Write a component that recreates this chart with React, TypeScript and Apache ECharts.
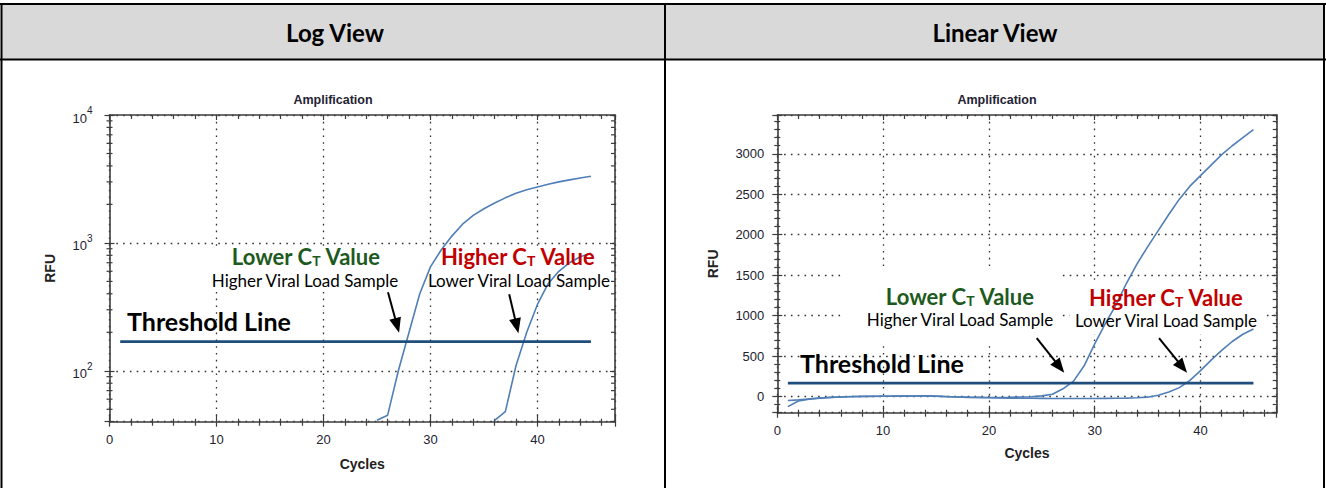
import React, { useEffect, useRef } from 'react';
import * as echarts from 'echarts';

// ---------- Data ----------
const linCycles = [1, 2, 3, 4, 5, 6, 7, 8, 9, 10, 11, 12, 13, 14, 15, 16, 17, 18, 19, 20, 21, 22, 23, 24, 25, 26, 27, 28, 29, 30, 31, 32, 33, 34, 35, 36, 37, 38, 39, 40, 41, 42, 43, 44, 45];
const linLowCt = [-50, -42, -30, -18, -10, -5, 0, 2, 3, 4, 5, 6, 7, 8, 5, 0, -5, -8, -10, -12, -12, -10, -6, -2, 8, 28, 95, 190, 380, 650, 900, 1130, 1400, 1640, 1850, 2050, 2250, 2440, 2600, 2730, 2860, 2990, 3100, 3200, 3300];
const linHighCt = [-125, -55, -32, -20, -12, -6, -2, 0, 2, 3, 4, 5, 6, 6, 3, -2, -6, -10, -13, -16, -18, -20, -21, -22, -23, -24, -24, -24, -24, -24, -23, -22, -20, -16, -8, 15, 55, 110, 200, 320, 450, 570, 680, 770, 835];
const linThresholdCycles = [1, 45];
const linThresholdValue = 165;

const logLowCtCycles = [25, 26, 27, 28, 29, 30, 31, 32, 33, 34, 35, 36, 37, 38, 39, 40, 41, 42, 43, 44, 45];
const logLowCt = [41, 45, 100, 200, 400, 650, 880, 1130, 1400, 1640, 1850, 2050, 2250, 2440, 2600, 2740, 2870, 3000, 3110, 3220, 3320];
const logHighCtCycles = [36, 37, 38, 39, 40, 41, 42, 43, 44, 45];
const logHighCt = [41, 48, 110, 200, 330, 480, 600, 700, 780, 830];
const logThresholdCycles = [1, 45];
const logThresholdValue = 169;
const logMinorTickValues = [50, 60, 70, 80, 90, 200, 300, 400, 500, 600, 700, 800, 900, 2000, 3000, 4000, 5000, 6000, 7000, 8000, 9000];

// arrows: [cycle, RFU] tail -> head
const logArrowTails = [[26.03, 411], [37.36, 397]];
const logArrowHeads = [[26.88, 226], [38.06, 224]];
const linArrowTails = [[24.52, 722], [36.08, 722]];
const linArrowHeads = [[26.68, 365], [38.28, 365]];

const headers = ['Log View', 'Linear View'];
const chartTitle = 'Amplification';

// ---------- Styles ----------
const ARIAL = 'Arial, "Liberation Sans", Helvetica, sans-serif';
const DOC = 'Lato, "Open Sans", "Noto Sans", sans-serif';
const AXIS = '#3c3c3c';
const LABEL = '#22222f';
const CURVE = '#4f7fb6';
const THRESH = '#1f4e7c';
const GREEN = '#1d5a1d';
const RED = '#c00000';
const tickStyle = { color: AXIS, width: 1.2 };
const dotStyle = { color: '#333', width: 1.3, type: [1.6, 5.2] };

function xAxesFor(gridIndex: number, max: number, nameGap: number, labelMargin: number) {
  const base = { gridIndex, type: 'value', min: 0, max, interval: 10 };
  return [
    {
      ...base,
      position: 'bottom',
      name: 'Cycles',
      nameLocation: 'middle',
      nameGap,
      nameTextStyle: { fontFamily: ARIAL, fontWeight: 'bold', fontSize: 14, color: '#222' },
      axisLine: { show: true, onZero: false, lineStyle: { color: AXIS, width: 1.6 } },
      axisTick: { show: true, length: 5, lineStyle: tickStyle },
      minorTick: { show: true, splitNumber: 5, length: 4, lineStyle: tickStyle },
      axisLabel: {
        margin: labelMargin,
        fontFamily: ARIAL,
        fontSize: 13,
        color: LABEL,
        formatter: (v: number) => (Math.abs(v % 10) < 1e-9 ? String(Math.round(v)) : ''),
      },
      splitLine: { show: true, lineStyle: dotStyle },
    },
    {
      ...base,
      position: 'bottom',
      axisLine: { show: false, onZero: false },
      axisTick: { show: true, inside: true, length: 7, lineStyle: tickStyle },
      minorTick: { show: true, splitNumber: 5, length: 3, lineStyle: tickStyle },
      axisLabel: { show: false },
      splitLine: { show: false },
    },
    {
      ...base,
      position: 'top',
      axisLine: { show: true, onZero: false, lineStyle: { color: AXIS, width: 1.6 } },
      axisTick: { show: true, inside: true, length: 5, lineStyle: tickStyle },
      minorTick: { show: true, splitNumber: 5, length: 4, lineStyle: tickStyle },
      axisLabel: { show: false },
      splitLine: { show: false },
    },
  ];
}

function logYAxes() {
  const base = { gridIndex: 0, type: 'log', logBase: 10, min: 40, max: 10000 };
  return [
    {
      ...base,
      position: 'left',
      name: 'RFU',
      nameLocation: 'middle',
      nameGap: 53,
      nameRotate: 90,
      nameTextStyle: { fontFamily: ARIAL, fontWeight: 'bold', fontSize: 14, color: '#222' },
      axisLine: { show: true, onZero: false, lineStyle: { color: AXIS, width: 1.6 } },
      axisTick: { show: true, length: 5, lineStyle: tickStyle },
      axisLabel: {
        margin: 17,
        formatter: (v: number) => {
          const e = Math.log10(v);
          if (Math.abs(e - Math.round(e)) < 1e-6) return `{b|10}{s|${Math.round(e)}}`;
          return '';
        },
        rich: {
          b: { fontFamily: ARIAL, fontSize: 13, color: LABEL, lineHeight: 19, verticalAlign: 'bottom' },
          s: { fontFamily: ARIAL, fontSize: 10, color: LABEL, lineHeight: 10, verticalAlign: 'top' },
        },
      },
      splitLine: { show: true, lineStyle: dotStyle },
    },
    {
      ...base,
      position: 'left',
      axisLine: { show: false, onZero: false },
      axisTick: { show: true, inside: true, length: 5, lineStyle: tickStyle },
      axisLabel: { show: false },
      splitLine: { show: false },
    },
    {
      ...base,
      position: 'right',
      axisLine: { show: true, onZero: false, lineStyle: { color: AXIS, width: 1.6 } },
      axisTick: { show: true, inside: true, length: 5, lineStyle: tickStyle },
      axisLabel: { show: false },
      splitLine: { show: false },
    },
  ];
}

function linYAxes() {
  const base = { gridIndex: 1, type: 'value', min: -200, max: 3480, splitNumber: 7 };
  return [
    {
      ...base,
      position: 'left',
      name: 'RFU',
      nameLocation: 'middle',
      nameGap: 57,
      nameRotate: 90,
      nameTextStyle: { fontFamily: ARIAL, fontWeight: 'bold', fontSize: 14, color: '#222' },
      axisLine: { show: true, onZero: false, lineStyle: { color: AXIS, width: 1.6 } },
      axisTick: { show: true, length: 5, lineStyle: tickStyle },
      minorTick: { show: true, splitNumber: 5, length: 3, lineStyle: tickStyle },
      axisLabel: {
        margin: 13,
        fontFamily: ARIAL,
        fontSize: 13,
        color: LABEL,
        formatter: (v: number) => (v >= 0 && Math.abs(v % 500) < 1e-9 ? String(Math.round(v)) : ''),
      },
      splitLine: { show: true, lineStyle: dotStyle },
    },
    {
      ...base,
      position: 'left',
      axisLine: { show: false, onZero: false },
      axisTick: { show: true, inside: true, length: 5, lineStyle: tickStyle },
      minorTick: { show: true, splitNumber: 5, length: 3, lineStyle: tickStyle },
      axisLabel: { show: false },
      splitLine: { show: false },
    },
    {
      ...base,
      position: 'right',
      axisLine: { show: true, onZero: false, lineStyle: { color: AXIS, width: 1.6 } },
      axisTick: { show: true, inside: true, length: 5, lineStyle: tickStyle },
      minorTick: { show: true, splitNumber: 5, length: 4, lineStyle: tickStyle },
      axisLabel: { show: false },
      splitLine: { show: false },
    },
  ];
}

function pairs(xs: number[], ys: number[]) {
  return xs.map((x, i) => [x, ys[i]]);
}

function arrowMarkLine(tails: number[][], heads: number[][]) {
  return {
    silent: true,
    symbol: ['none', 'triangle'],
    symbolSize: [12, 15],
    label: { show: false },
    emphasis: { disabled: true },
    lineStyle: { color: '#000', width: 2, type: 'solid' },
    itemStyle: { color: '#000' },
    data: tails.map((t, i) => [{ coord: t }, { coord: heads[i] }]),
  };
}

function curveSeries(data: number[][], xi: number, yi: number) {
  return {
    type: 'line',
    xAxisIndex: xi,
    yAxisIndex: yi,
    data,
    showSymbol: false,
    symbol: 'none',
    silent: true,
    z: 3,
    lineStyle: { color: CURVE, width: 1.6 },
  };
}

function ctTitle(x: number, y: number, word: string, color: string) {
  return {
    type: 'text',
    z: 10,
    style: {
      x,
      y,
      text: `{a|${word} C}{b|T}{a| Value}`,
      align: 'center',
      verticalAlign: 'middle',
      rich: {
        a: { fontFamily: DOC, fontWeight: 'bold', fontSize: 22, fill: color, lineHeight: 26, verticalAlign: 'bottom' },
        b: { fontFamily: DOC, fontWeight: 'bold', fontSize: 14, fill: color, lineHeight: 14, verticalAlign: 'bottom' },
      },
    },
  };
}

function plainText(x: number, y: number, text: string, opts: any = {}) {
  return {
    type: 'text',
    z: 10,
    style: {
      x,
      y,
      text,
      align: opts.align || 'center',
      verticalAlign: 'middle',
      fontFamily: opts.fontFamily || DOC,
      fontWeight: opts.fontWeight || 'normal',
      fontSize: opts.fontSize || 17,
      fill: opts.fill || '#000',
    },
  };
}

function whiteBox(x: number, y: number, width: number, height: number) {
  return { type: 'rect', z: 1, silent: true, shape: { x, y, width, height }, style: { fill: '#ffffff' } };
}

function hline(x1: number, x2: number, y: number) {
  return { type: 'line', z: 5, silent: true, shape: { x1, y1: y, x2, y2: y }, style: { stroke: '#000', lineWidth: 2 } };
}
function vline(x: number, y1: number, y2: number) {
  return { type: 'line', z: 5, silent: true, shape: { x1: x, y1, x2: x, y2 }, style: { stroke: '#000', lineWidth: 2 } };
}

function buildOption() {
  return {
    animation: false,
    backgroundColor: '#ffffff',
    grid: [
      { left: 109.5, top: 115, width: 505.5, height: 306.7, containLabel: false, outerBoundsMode: 'none' },
      { left: 777.3, top: 115, width: 499.4, height: 297.7, containLabel: false, outerBoundsMode: 'none' },
    ],
    xAxis: [...xAxesFor(0, 47.25, 35, 11), ...xAxesFor(1, 47.2, 33, 11)],
    yAxis: [...logYAxes(), ...linYAxes()],
    series: [
      curveSeries(pairs(logLowCtCycles, logLowCt), 0, 0),
      curveSeries(pairs(logHighCtCycles, logHighCt), 0, 0),
      {
        type: 'line',
        xAxisIndex: 0,
        yAxisIndex: 0,
        data: logThresholdCycles.map((c) => [c, logThresholdValue]),
        showSymbol: false,
        symbol: 'none',
        silent: true,
        z: 4,
        lineStyle: { color: THRESH, width: 2.6 },
        markLine: arrowMarkLine(logArrowTails, logArrowHeads),
      },
      {
        type: 'custom',
        xAxisIndex: 0,
        yAxisIndex: 0,
        silent: true,
        clip: false,
        z: 4,
        data: logMinorTickValues.map((v) => [0, v]),
        renderItem: (params: any, api: any) => {
          const p = api.coord([0, api.value(1)]);
          const cs = params.coordSys;
          const st = { stroke: AXIS, lineWidth: 1.2 };
          return {
            type: 'group',
            children: [
              { type: 'line', shape: { x1: cs.x - 3, y1: p[1], x2: cs.x + 3, y2: p[1] }, style: st },
              { type: 'line', shape: { x1: cs.x + cs.width - 4, y1: p[1], x2: cs.x + cs.width, y2: p[1] }, style: st },
            ],
          };
        },
      },
      curveSeries(pairs(linCycles, linLowCt), 3, 3),
      curveSeries(pairs(linCycles, linHighCt), 3, 3),
      {
        type: 'line',
        xAxisIndex: 3,
        yAxisIndex: 3,
        data: linThresholdCycles.map((c) => [c, linThresholdValue]),
        showSymbol: false,
        symbol: 'none',
        silent: true,
        z: 4,
        lineStyle: { color: THRESH, width: 2.6 },
        markLine: arrowMarkLine(linArrowTails, linArrowHeads),
      },
    ],
    graphic: {
      elements: [
        // table
        { type: 'rect', z: 0, silent: true, shape: { x: 1, y: 4, width: 1323, height: 55 }, style: { fill: '#d9d9d9' } },
        hline(0, 1326, 4),
        hline(0, 1326, 59.5),
        vline(1.5, 3, 488),
        vline(665, 3, 488),
        vline(1324, 3, 488),
        plainText(335, 32, headers[0], { fontWeight: 'bold', fontSize: 24 }),
        plainText(995, 32, headers[1], { fontWeight: 'bold', fontSize: 24 }),
        // chart titles
        plainText(333, 100, chartTitle, { fontFamily: ARIAL, fontWeight: 'bold', fontSize: 12.5, fill: '#1f2333' }),
        plainText(997, 100, chartTitle, { fontFamily: ARIAL, fontWeight: 'bold', fontSize: 12.5, fill: '#1f2333' }),
        // log annotations
        whiteBox(207, 247, 197, 45),
        whiteBox(421, 247, 191, 45),
        ctTitle(306, 254, 'Lower', GREEN),
        plainText(305, 280, 'Higher Viral Load Sample'),
        ctTitle(518, 254, 'Higher', RED),
        plainText(519, 280, 'Lower Viral Load Sample'),
        plainText(127, 321, 'Threshold Line', { align: 'left', fontWeight: 'bold', fontSize: 25 }),
        // linear annotations
        whiteBox(843, 266, 215, 75),
        whiteBox(1070, 283, 192, 51),
        ctTitle(960, 294, 'Lower', GREEN),
        plainText(960, 319, 'Higher Viral Load Sample'),
        ctTitle(1166, 295, 'Higher', RED),
        plainText(1166, 320, 'Lower Viral Load Sample'),
        plainText(800, 363, 'Threshold Line', { align: 'left', fontWeight: 'bold', fontSize: 25 }),
      ],
    },
  };
}

export default function App() {
  const ref = useRef<HTMLDivElement>(null);
  useEffect(() => {
    if (!ref.current) return;
    const chart = echarts.init(ref.current, null, { renderer: 'svg' });
    chart.setOption(buildOption() as any);
    return () => chart.dispose();
  }, []);
  return (
    <div
      ref={ref}
      style={{ position: 'absolute', left: 0, top: 0, width: 1326, height: 488, background: '#fff' }}
    />
  );
}
